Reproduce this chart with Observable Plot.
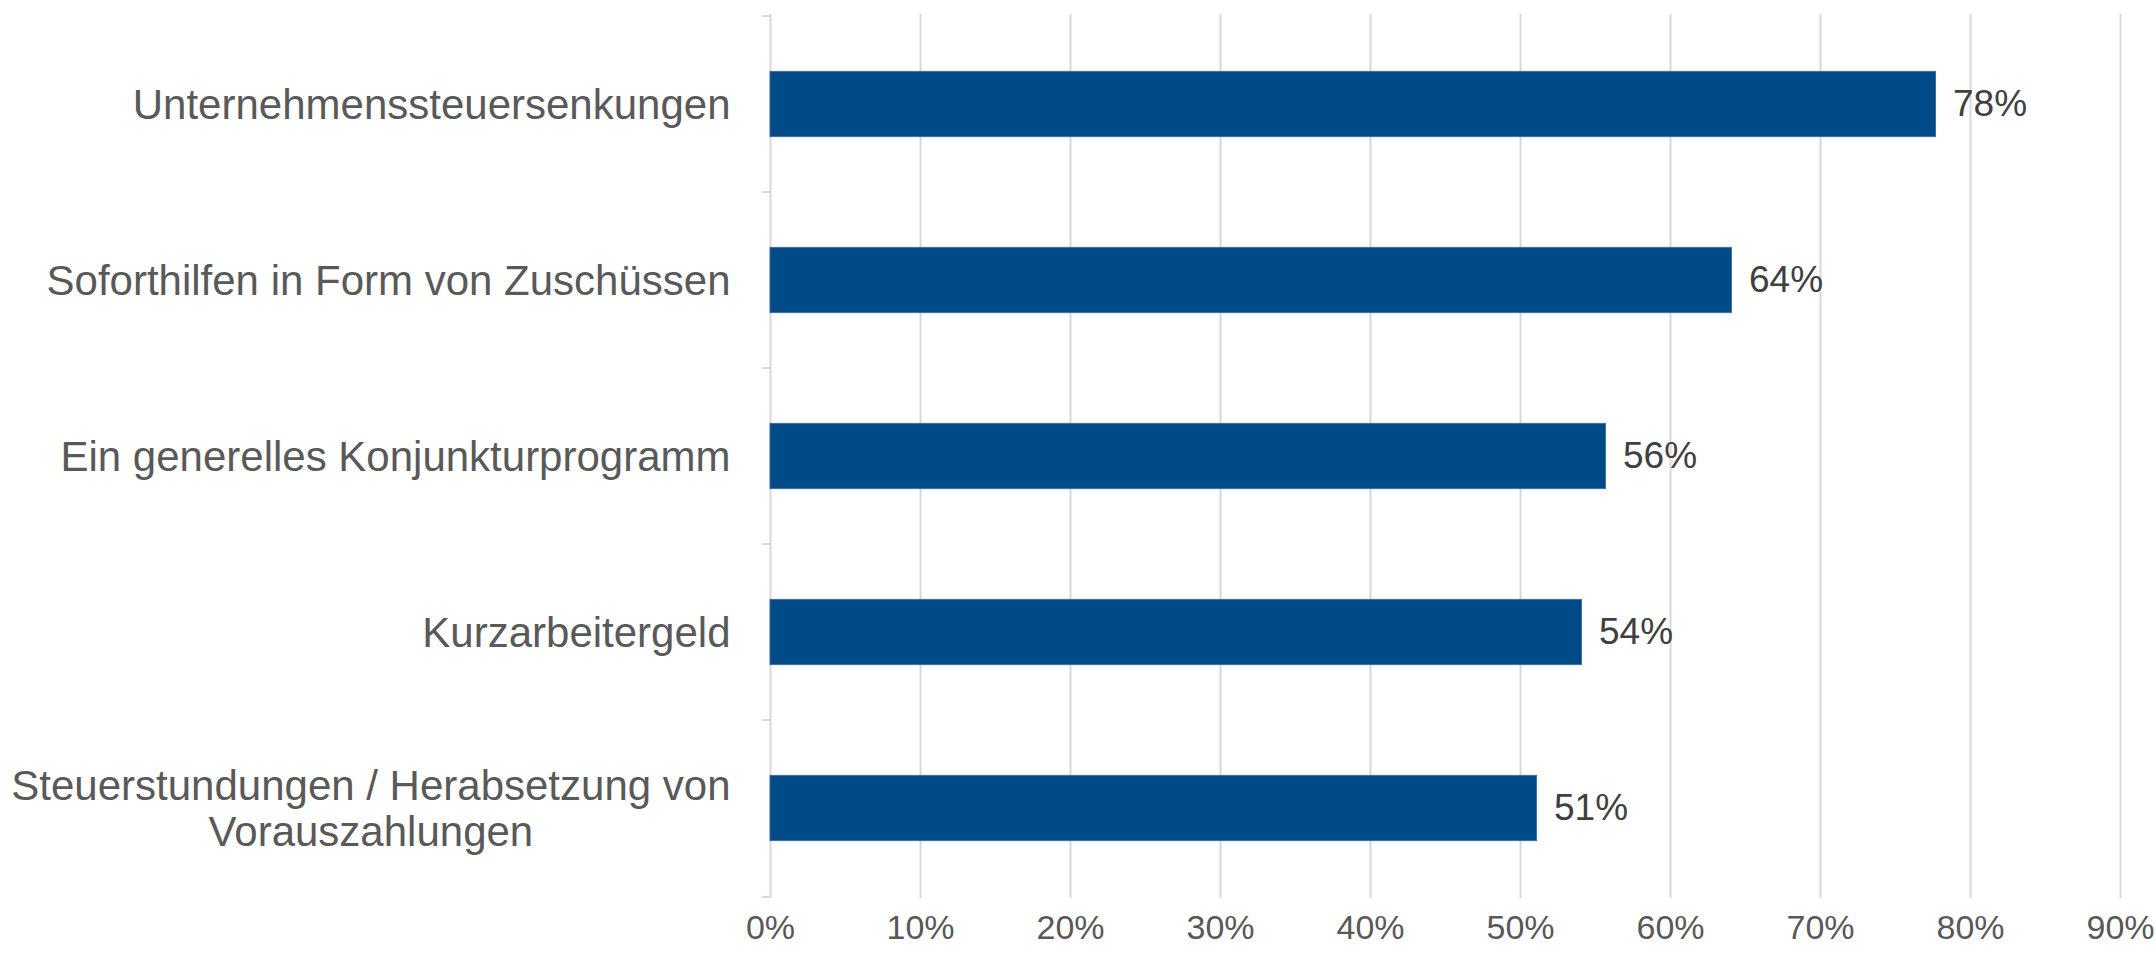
<!DOCTYPE html>
<html>
<head>
<meta charset="utf-8">
<script src="https://cdn.jsdelivr.net/npm/d3@7"></script>
<script src="https://cdn.jsdelivr.net/npm/@observablehq/plot@0.6"></script>
<style>
  html, body { margin: 0; padding: 0; background: #ffffff; }
  #chart svg { display: block; }
</style>
</head>
<body>
<div id="chart"></div>
<script>
const categories = [
  "Unternehmenssteuersenkungen",
  "Soforthilfen in Form von Zuschüssen",
  "Ein generelles Konjunkturprogramm",
  "Kurzarbeitergeld",
  "Steuerstundungen / Herabsetzung von\nVorauszahlungen"
];
const values = [0.777, 0.641, 0.557, 0.541, 0.511];
const xTicks = [0, 0.1, 0.2, 0.3, 0.4, 0.5, 0.6, 0.7, 0.8, 0.9];

const data = categories.map((c, i) => ({category: c, value: values[i]}));
const lastCat = [categories[categories.length - 1]];

const W = 2156, H = 953;
const marginTop = 14, marginBottom = 55, marginLeft = 770, marginRight = 36;
const step = (H - marginTop - marginBottom) / categories.length;
const barInset = (step - 66) / 2;

const chart = Plot.plot({
  width: W,
  height: H,
  marginTop, marginBottom, marginLeft, marginRight,
  style: {fontFamily: "Arial, 'Liberation Sans', sans-serif", background: "#ffffff"},
  x: {domain: [0, 0.9], ticks: xTicks, tickFormat: d => Math.round(d * 100) + "%", label: null},
  y: {domain: categories, padding: 0, label: null},
  marks: [
    Plot.gridX(xTicks.slice(1), {stroke: "#d9d9d9", strokeOpacity: 1, strokeWidth: 2}),
    Plot.ruleX([0], {stroke: "#d9d9d9", strokeWidth: 2}),
    Plot.ruleY(categories, {y: d => d, x1: 0, x2: 0, insetLeft: -8, dy: -step / 2, stroke: "#d9d9d9", strokeWidth: 2}),
    Plot.ruleY(lastCat, {y: d => d, x1: 0, x2: 0, insetLeft: -8, dy: step / 2, stroke: "#d9d9d9", strokeWidth: 2}),
    Plot.barX(data, {y: "category", x: "value", fill: "#004b87", stroke: "#3a72a8", strokeWidth: 1, insetTop: barInset, insetBottom: barInset}),
    Plot.text(data, {y: "category", x: "value", text: d => Math.round(d.value * 100) + "%", textAnchor: "start", dx: 17, fill: "#404040", fontSize: 37}),
    Plot.axisX({ticks: xTicks, tickSize: 0, tickPadding: 16, fontSize: 34, color: "#595959", label: null, tickFormat: d => Math.round(d * 100) + "%"}),
    Plot.axisY({tickSize: 0, tickPadding: 40, fontSize: 42, color: "#595959", label: null, lineHeight: 1.1})
  ]
});

document.getElementById("chart").appendChild(chart);

// center-align multi-line category labels within their block (right-aligned block)
d3.select(chart).selectAll("g[aria-label='y-axis tick label'] text").each(function() {
  const tspans = this.querySelectorAll("tspan");
  if (tspans.length > 1) {
    const bb = this.getBBox();
    this.setAttribute("text-anchor", "middle");
    tspans.forEach(t => t.setAttribute("x", bb.x + bb.width / 2));
  }
});
</script>
</body>
</html>
